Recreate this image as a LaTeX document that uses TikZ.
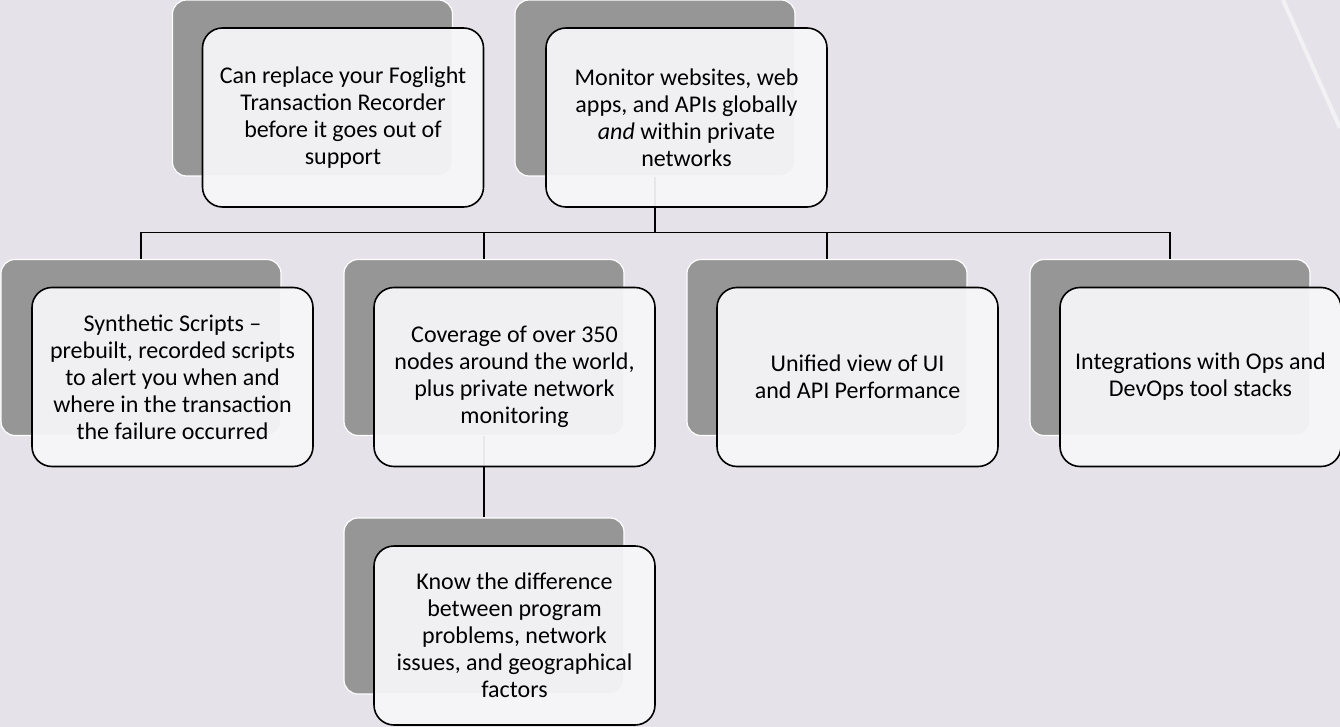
\documentclass[tikz,border=0pt]{standalone}
\usepackage{fontspec}
\setmainfont{Carlito}
\usetikzlibrary{positioning,calc}
\definecolor{pagebg}{HTML}{E5E3E9}
\definecolor{shadowgray}{HTML}{969696}
\definecolor{cardwhite}{HTML}{F6F6F8}

\begin{document}
\begin{tikzpicture}[x=1pt,y=-1pt,
    back/.style={draw=white,line width=1.2pt,fill=shadowgray,rounded corners=14pt,
      minimum width=280pt,minimum height=176pt,inner sep=0pt},
    front/.style={draw=black,line width=1.6pt,fill=cardwhite,fill opacity=0.94,
      text opacity=1,rounded corners=20pt,minimum width=281pt,minimum height=179pt,
      inner sep=0pt,align=center,font=\fontsize{24}{27}\selectfont},
    link/.style={draw=black,line width=1.6pt}]
    %page background
  \useasboundingbox (0,0) rectangle (1340,727);
  \fill[pagebg] (0,0) rectangle (1340,727);
  \draw[white,line width=4pt,opacity=0.5] (1283,0) -- (1340,128);

    %grey back cards first, so links and front cards lie over them
  \node[back] (A-bg) at (312.5,88) {};
  \node[back] (B-bg) at (655,88) {};
  \node[back] (C-bg) at (141,347.5) {};
  \node[back] (D-bg) at (484,347.5) {};
  \node[back] (E-bg) at (827,347.5) {};
  \node[back] (F-bg) at (1170,347.5) {};
  \node[back] (G-bg) at (484,606) {};

    %links of the tree
  \coordinate[below=56pt of B-bg.south] (split);
  \draw[link] (B-bg.south) -- (split);
  \foreach \c in {C,D,E,F}
    \draw[link] (split) -| (\c-bg.north);
  \draw[link] (D-bg.south) -- (G-bg.north);

    %white front cards with the texts
  \node[front] (A) at ($(A-bg)+(30.5,29.5)$)
    {Can replace your Foglight\\Transaction Recorder\\before it goes out of\\support};
  \node[front] (B) at ($(B-bg)+(31.5,29.5)$)
    {Monitor websites, web\\apps, and APIs globally\\\textit{and} within private\\networks};
  \node[front] (C) at ($(C-bg)+(31.5,29.5)$)
    {Synthetic Scripts --\\prebuilt, recorded scripts\\to alert you when and\\where in the transaction\\the failure occurred};
  \node[front] (D) at ($(D-bg)+(30.5,29.5)$)
    {Coverage of over 350\\nodes around the world,\\plus private network\\monitoring};
  \node[front] (E) at ($(E-bg)+(30.5,29.5)$)
    {Unified view of UI\\and API Performance};
  \node[front] (F) at ($(F-bg)+(30.5,29.5)$)
    {Integrations with Ops and\\DevOps tool stacks};
  \node[front] (G) at ($(G-bg)+(30.5,29.5)$)
    {Know the difference\\between program\\problems, network\\issues, and geographical\\factors};
\end{tikzpicture}
\end{document}
